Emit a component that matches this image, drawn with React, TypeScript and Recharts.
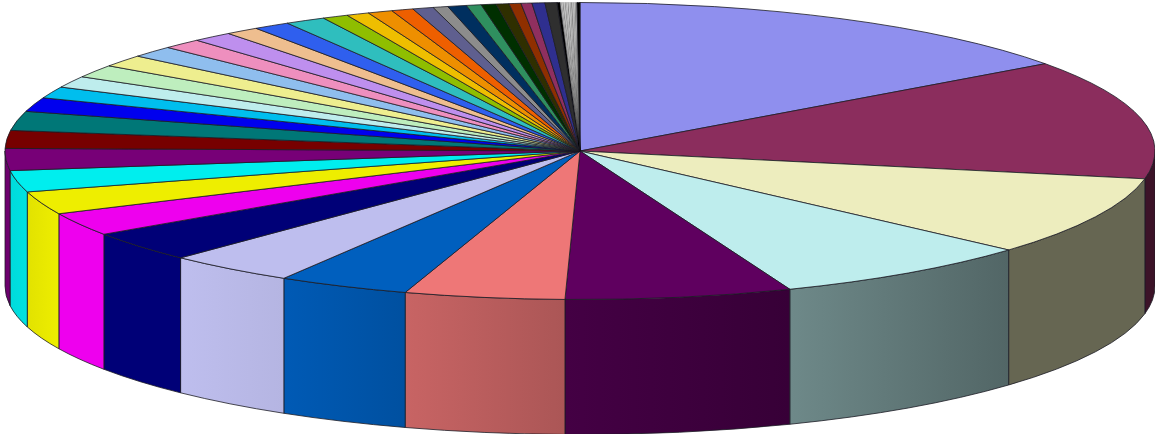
import { PieChart, Pie } from 'recharts'

// slice sizes, clockwise from 12 o'clock
const mainValues = [
  54, 46.8, 31, 26.8, 22.9, 16.2, 13.3, 13, 11.9, 9.1, 9, 8.4, 8.6, 7, 7.5, 5.5, 4.5, 4.5, 5, 4.7,
  4.5, 4, 4.1, 3.4, 3.7, 4.1, 2.6, 2.3, 2.5, 2.2, 2.1, 1.5, 1.9, 1.5, 1.5, 1.3, 1.2, 1.1, 1.3, 1.2,
]
const mainColors = [
  '#8f8fee', '#8b2d5d', '#ededbe', '#beeded', '#5f005f', '#ee7777', '#005fbe', '#bebeee', '#000077', '#ee00ee',
  '#eeee00', '#00eeee', '#770077', '#770000', '#007777', '#0000ee', '#00beee', '#beeded', '#beeebe', '#eeee8f',
  '#8fbeee', '#ee8fbe', '#be8fee', '#eebe8f', '#2f5fee', '#2fbebe', '#8fbe00', '#eebe00', '#ee8f00', '#ee5f00',
  '#5f5f8f', '#8c8c8c', '#002f5f', '#2f8f5f', '#002f00', '#2f2f00', '#8f2f00', '#8f2f5f', '#2f2f8f', '#2f2f2f',
]
// the sliver slices before 12 o'clock, too thin to read one by one
const sliverValues = [
  0.3, 0.07, 0.06, 0.08, 0.07, 0.06, 0.08, 0.07, 0.08, 0.06, 0.07, 0.08, 0.07, 0.07, 0.08, 0.06,
  0.07, 0.08, 0.07, 0.06, 0.08, 0.07, 0.07, 0.08, 0.06, 0.3,
]
const sliverColors = [
  '#000000', '#8c8c8c', '#ffffff', '#bdbdbd', '#ffffff', '#8c8c8c', '#e8e8e8', '#ffffff', '#a6a6a6', '#ffffff',
  '#d8d8d8', '#ffffff', '#8c8c8c', '#ffffff', '#f0f0f0', '#bdbdbd', '#ffffff', '#8c8c8c', '#e8e8e8', '#ffffff',
  '#bdbdbd', '#ffffff', '#8c8c8c', '#d8d8d8', '#8c8c8c', '#000000',
]

const slices = [...mainValues, ...sliverValues].map((value, i) => ({
  value,
  fill: [...mainColors, ...sliverColors][i],
}))

const TILT = 148.5 / 575
const DEPTH = 135
const LINE = '#1c1c24'
// how bright the wall is at a given x
const lightStops = [
  [10, 0.92],
  [60, 1],
  [180, 1],
  [284, 0.95],
  [405, 0.84],
  [565, 0.72],
  [790, 0.58],
  [1010, 0.43],
]

function lightAt(x: number) {
  if (x <= lightStops[0][0]) return lightStops[0][1]
  for (let i = 1; i < lightStops.length; i++) {
    const [x0, v0] = lightStops[i - 1]
    const [x1, v1] = lightStops[i]
    if (x <= x1) return v0 + ((v1 - v0) * (x - x0)) / (x1 - x0)
  }
  return 0.43
}

function shade(hex: string, k: number) {
  const n = parseInt(hex.slice(1), 16)
  const r = Math.round(((n >> 16) & 255) * k)
  const g = Math.round(((n >> 8) & 255) * k)
  const b = Math.round((n & 255) * k)
  return `rgb(${r},${g},${b})`
}

function Slice3D(props: any) {
  const { cx, cy, outerRadius, startAngle, endAngle, fill } = props
  const rx = outerRadius
  const ry = outerRadius * TILT
  const px = (a: number) => cx + rx * Math.cos((a * Math.PI) / 180)
  const py = (a: number) => cy - ry * Math.sin((a * Math.PI) / 180)
  const large = startAngle - endAngle > 180 ? 1 : 0
  const top = `M${cx},${cy} L${px(startAngle)},${py(startAngle)} A${rx},${ry} 0 ${large} 1 ${px(endAngle)},${py(endAngle)} Z`

  // only the part of the rim on the front half gets a wall
  const wallStart = Math.min(startAngle, 0)
  const wallEnd = Math.max(endAngle, -180)
  const hasWall = wallStart > wallEnd
  const id = `wall-${Math.round(startAngle * 100)}`.replace('.', '_')
  const thin = startAngle - endAngle < 0.2

  return (
    <g>
      {hasWall && (
        <>
          <defs>
            <linearGradient id={id} gradientUnits="userSpaceOnUse" x1={px(wallEnd)} x2={px(wallStart)} y1={0} y2={0}>
              <stop offset="0%" stopColor={shade(fill, lightAt(px(wallEnd)))} />
              <stop offset="100%" stopColor={shade(fill, lightAt(px(wallStart)))} />
            </linearGradient>
          </defs>
          <path
            d={`M${px(wallStart)},${py(wallStart)} A${rx},${ry} 0 0 1 ${px(wallEnd)},${py(wallEnd)} L${px(wallEnd)},${py(wallEnd) + DEPTH} A${rx},${ry} 0 0 0 ${px(wallStart)},${py(wallStart) + DEPTH} Z`}
            fill={`url(#${id})`}
            stroke={LINE}
            strokeWidth={0.8}
            strokeLinejoin="round"
          />
        </>
      )}
      <path d={top} fill={fill} stroke={thin ? '#000000' : LINE} strokeWidth={thin ? 0.12 : 0.8} strokeLinejoin="round" />
    </g>
  )
}

export default function App() {
  return (
    <div style={{ position: 'absolute', left: 0, top: 0 }}>
      <PieChart width={1155} height={434} margin={{ top: 0, right: 0, bottom: 0, left: 0 }}>
        <Pie
          data={slices}
          dataKey="value"
          cx={580}
          cy={151}
          innerRadius={0}
          outerRadius={575}
          startAngle={90}
          endAngle={-270}
          stroke="none"
          labelLine={false}
          isAnimationActive={false}
          shape={Slice3D}
        />
      </PieChart>
    </div>
  )
}
